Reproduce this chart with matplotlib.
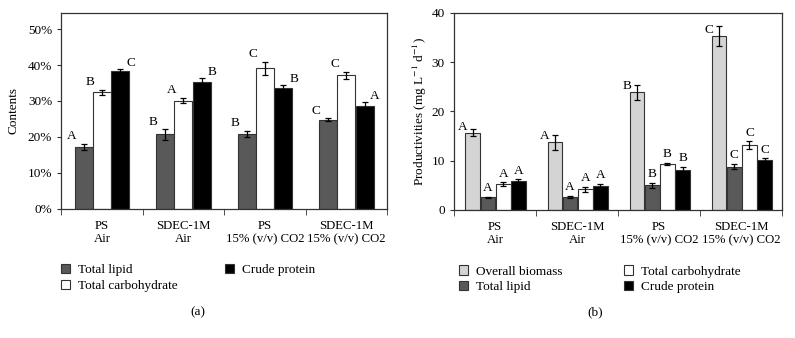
import numpy as np
import matplotlib
matplotlib.use('Agg')
import matplotlib.pyplot as plt
from matplotlib.patches import Patch
from matplotlib.ticker import FuncFormatter

plt.rcParams['font.family'] = 'Liberation Serif'
plt.rcParams['font.size'] = 9.5
plt.rcParams['mathtext.fontset'] = 'stix'

# categories
groups = ['PS\nAir', 'SDEC-1M\nAir', 'PS\n15% (v/v) CO2', 'SDEC-1M\n15% (v/v) CO2']

# (a) contents, %
lipid_pct = [17.3, 20.7, 20.9, 24.8]
lipid_pct_err = [0.8, 1.5, 0.8, 0.4]
carb_pct = [32.4, 30.1, 39.1, 37.1]
carb_pct_err = [0.7, 0.8, 1.8, 1.0]
prot_pct = [38.2, 35.2, 33.5, 28.6]
prot_pct_err = [0.8, 1.2, 0.9, 1.1]
lipid_pct_lab = ['A', 'B', 'B', 'C']
carb_pct_lab = ['B', 'A', 'C', 'C']
prot_pct_lab = ['C', 'B', 'B', 'A']

# (b) productivities, mg/L/d
biomass = [15.7, 13.7, 23.9, 35.3]
biomass_err = [0.8, 1.5, 1.5, 2.0]
lipid_p = [2.6, 2.7, 5.0, 8.8]
lipid_p_err = [0.1, 0.2, 0.5, 0.5]
carb_p = [5.2, 4.2, 9.3, 13.1]
carb_p_err = [0.4, 0.5, 0.2, 0.8]
prot_p = [5.9, 4.75, 8.0, 10.05]
prot_p_err = [0.3, 0.6, 0.7, 0.4]
biomass_lab = ['A', 'A', 'B', 'C']
lipid_p_lab = ['A', 'A', 'B', 'C']
carb_p_lab = ['A', 'A', 'B', 'C']
prot_p_lab = ['A', 'A', 'B', 'C']

c_bio = '#d4d4d4'
c_lip = '#595959'
c_carb = 'white'
c_prot = 'black'
edge = '#333333'

fig = plt.figure(figsize=(7.95, 3.38), dpi=100)
axa = fig.add_axes([0.077, 0.382, 0.410, 0.580])
axb = fig.add_axes([0.571, 0.379, 0.413, 0.583])

x = np.arange(len(groups))
ekw = dict(ecolor='black', elinewidth=0.9, capsize=2.5, capthick=0.9)


def style(ax):
    for s in ax.spines.values():
        s.set_color(edge)
        s.set_linewidth(0.9)
    ax.set_xlim(-0.5, 3.5)
    ax.set_xticks(x)
    ax.set_xticklabels(groups, linespacing=1.15, fontsize=9.2)
    ax.tick_params(axis='x', which='major', length=0, pad=8)
    ax.set_xticks(np.arange(-0.5, 4, 1), minor=True)
    ax.tick_params(axis='x', which='minor', length=4, direction='out', color=edge)
    ax.tick_params(axis='y', length=3, direction='out', color=edge)


# panel (a)
w = 0.22
off = [-0.225, 0, 0.225]
for vals, errs, col, o in [(lipid_pct, lipid_pct_err, c_lip, off[0]),
                           (carb_pct, carb_pct_err, c_carb, off[1]),
                           (prot_pct, prot_pct_err, c_prot, off[2])]:
    axa.bar(x + o, vals, w, color=col, edgecolor=edge, linewidth=0.8,
            yerr=errs, error_kw=ekw)
for i in range(4):
    axa.annotate(lipid_pct_lab[i], (x[i] + off[0] - w / 2, lipid_pct[i] + lipid_pct_err[i]),
                 xytext=(-2, 1), textcoords='offset points', ha='center', va='bottom')
    axa.annotate(carb_pct_lab[i], (x[i] + off[1] - w / 2, carb_pct[i] + carb_pct_err[i]),
                 xytext=(-2, 1), textcoords='offset points', ha='center', va='bottom')
    axa.annotate(prot_pct_lab[i], (x[i] + off[2] + w / 2, prot_pct[i] + prot_pct_err[i]),
                 xytext=(1, 0), textcoords='offset points', ha='center', va='bottom')
style(axa)
axa.set_ylim(0, 54.5)
axa.set_yticks(np.arange(0, 51, 10))
axa.yaxis.set_major_formatter(FuncFormatter(lambda v, p: '%d%%' % v))
axa.set_ylabel('Contents', labelpad=6)

# panel (b)
wb = 0.18
offb = [-0.27, -0.085, 0.1, 0.285]
for vals, errs, col, o in [(biomass, biomass_err, c_bio, offb[0]),
                           (lipid_p, lipid_p_err, c_lip, offb[1]),
                           (carb_p, carb_p_err, c_carb, offb[2]),
                           (prot_p, prot_p_err, c_prot, offb[3])]:
    axb.bar(x + o, vals, wb, color=col, edgecolor=edge, linewidth=0.8,
            yerr=errs, error_kw=ekw)
for i in range(4):
    axb.annotate(biomass_lab[i], (x[i] + offb[0] - wb / 2, biomass[i]),
                 xytext=(-2, 0), textcoords='offset points', ha='center', va='bottom')
    for vals, errs, labs, o in [(lipid_p, lipid_p_err, lipid_p_lab, offb[1]),
                                (carb_p, carb_p_err, carb_p_lab, offb[2]),
                                (prot_p, prot_p_err, prot_p_lab, offb[3])]:
        axb.annotate(labs[i], (x[i] + o, vals[i] + errs[i]),
                     xytext=(0, 2), textcoords='offset points', ha='center', va='bottom')
style(axb)
axb.set_ylim(0, 40)
axb.set_yticks(np.arange(0, 41, 10))
axb.set_ylabel('Productivities (mg L$^{-1}$ d$^{-1}$)', labelpad=2)

# legends
def patch(c, lab):
    return Patch(facecolor=c, edgecolor=edge, linewidth=0.8, label=lab)

leg_kw = dict(ncol=2, frameon=False, handlelength=0.7, handleheight=0.7,
              handletextpad=0.6, labelspacing=0.25, borderaxespad=0, fontsize=9.5)
axa.legend(handles=[patch(c_lip, 'Total lipid'), patch(c_carb, 'Total carbohydrate'),
                    patch(c_prot, 'Crude protein')],
           loc='upper left', bbox_to_anchor=(-0.018, -0.255), columnspacing=3.6, **leg_kw)
axb.legend(handles=[patch(c_bio, 'Overall biomass'), patch(c_lip, 'Total lipid'),
                    patch(c_carb, 'Total carbohydrate'), patch(c_prot, 'Crude protein')],
           loc='upper left', bbox_to_anchor=(0.0, -0.255), columnspacing=4.6, **leg_kw)

fig.text(0.249, 0.075, '(a)', ha='center', va='center', fontsize=9.5)
fig.text(0.749, 0.075, '(b)', ha='center', va='center', fontsize=9.5)

fig.savefig('out.png', dpi=100)
